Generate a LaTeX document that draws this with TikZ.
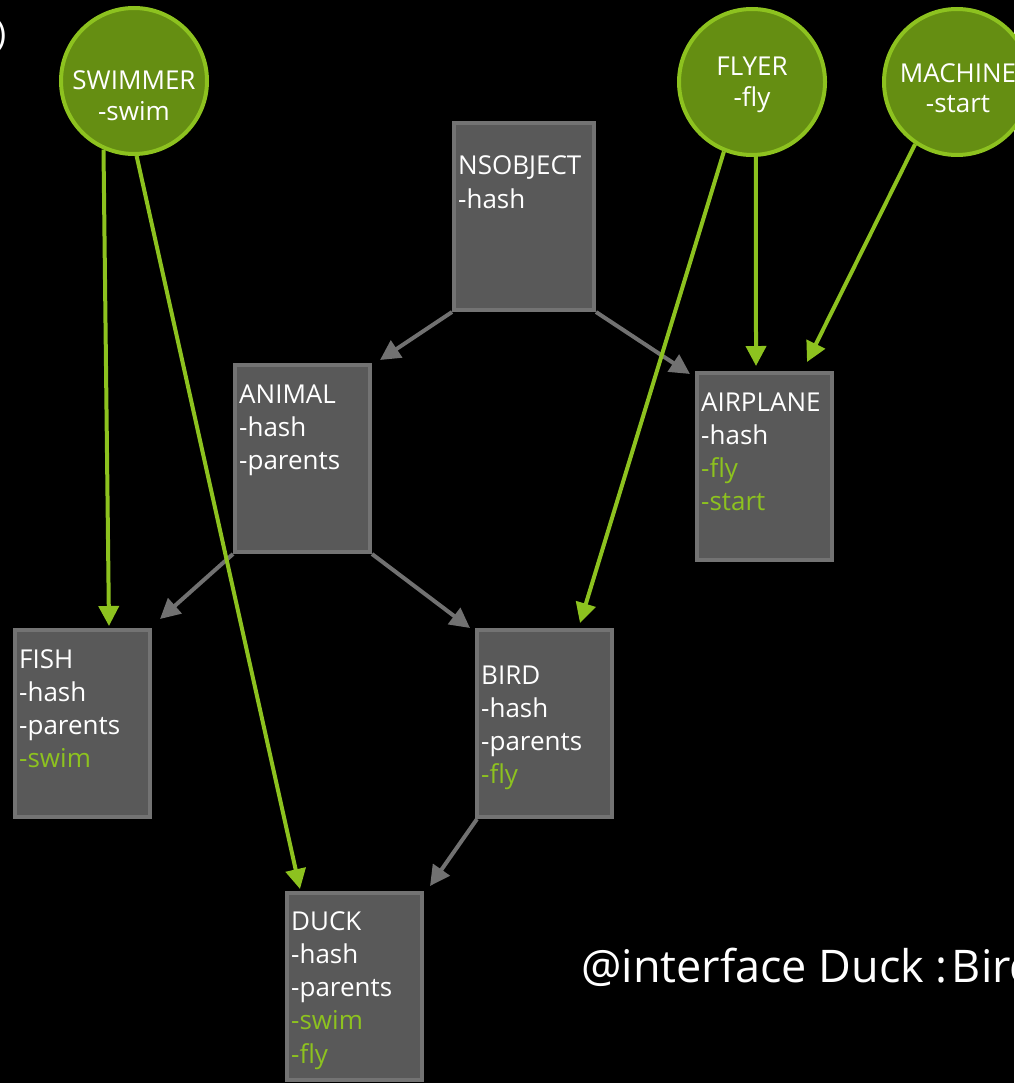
\documentclass[tikz,border=0pt]{standalone}
\usepackage{fontspec}
\setmainfont{Open Sans}
\usetikzlibrary{arrows.meta,calc}
\definecolor{boxfill}{HTML}{595959}
\definecolor{boxline}{HTML}{737373}
\definecolor{linkgray}{HTML}{717171}
\definecolor{protofill}{HTML}{658E12}
\definecolor{protoline}{HTML}{8DC21F}
\definecolor{methodgreen}{HTML}{8DC21F}

% member lines of a class box: box name, baseline of first line, list text/colour
\newcommand\classmembers[3]{%
  \foreach \txt/\col [count=\i from 0] in {#3}
    \node[member,text=\col] (#1-\i) at ($(#1.north west)+(6,#2+33.3*\i)$) {\txt};%
}

\begin{document}
\begin{tikzpicture}[x=1pt,y=-1pt,
  classbox/.style={draw=boxline,fill=boxfill,line width=4pt,minimum width=135pt,
    minimum height=187pt,inner sep=0pt,anchor=north west},
  proto/.style={circle,draw=protoline,fill=protofill,line width=4pt,
    minimum size=146pt,inner sep=0pt},
  member/.style={anchor=base west,inner sep=0pt,font=\fontsize{26}{33}\selectfont},
  prototext/.style={anchor=base,inner sep=0pt,text=white,font=\fontsize{26}{33}\selectfont},
  inherits/.style={draw=linkgray,line width=4pt,-{Triangle[length=20pt,width=20pt]}},
  adopts/.style={draw=protoline,line width=4pt,-{Triangle[length=20pt,width=20pt]}},
]
\fill[black] (0,0) rectangle (1014,1083);
\useasboundingbox (0,0) rectangle (1014,1083);

% class boxes placed first, so connectors can start at their corners
\path
  (452,121) node[classbox,minimum width=140pt] (nsobject) {}
  (233,363) node[classbox] (animal) {}
  (695,371) node[classbox] (airplane) {}
  (13,628)  node[classbox] (fish) {}
  (475,628) node[classbox] (bird) {}
  (285,891) node[classbox] (duck) {};

% protocols
\node[proto] (swimmer) at (134,81) {};
\node[proto] (flyer)   at (752,82) {};
\node[proto] (machine) at (957,82) {};

% inheritance connectors
\draw[inherits] (nsobject.south west) -- ($(animal.north east)+(8,-3)$);
\draw[inherits] (nsobject.south east) -- ($(airplane.north west)+(-5,3)$);
\draw[inherits] (animal.south west) -- ($(fish.north east)+(8,-9)$);
\draw[inherits] (animal.south east) -- ($(bird.north west)+(-5,0)$);
\draw[inherits] ($(bird.south west)+(2,0)$) -- ($(duck.north east)+(6,-5)$);

% protocol adoption connectors
\draw[adopts] (swimmer.246) -- ($(fish.north west)+(96,-2)$);
\draw[adopts] (swimmer.272) -- ($(duck.north west)+(15,-2)$);
\draw[adopts] (flyer.248)   -- ($(bird.north west)+(105,-5)$);
\draw[adopts] (flyer.273)   -- ($(airplane.north west)+(61,-5)$);
\draw[adopts] (machine.236) -- ($(airplane.north west)+(112,-9)$);

% boxes again, over the connector starts
\path
  (452,121) node[classbox,minimum width=140pt] (nsobject) {}
  (233,363) node[classbox] (animal) {}
  (695,371) node[classbox] (airplane) {}
  (13,628)  node[classbox] (fish) {}
  (475,628) node[classbox] (bird) {}
  (285,891) node[classbox] (duck) {};

\classmembers{nsobject}{54}{NSOBJECT/white,-hash/white}
\classmembers{animal}{40}{ANIMAL/white,-hash/white,-parents/white}
\classmembers{airplane}{40}{AIRPLANE/white,-hash/white,-fly/methodgreen,-start/methodgreen}
\classmembers{fish}{40}{FISH/white,-hash/white,-parents/white,-swim/methodgreen}
\classmembers{bird}{56}{BIRD/white,-hash/white,-parents/white,-fly/methodgreen}
\classmembers{duck}{39}{DUCK/white,-hash/white,-parents/white,-swim/methodgreen,-fly/methodgreen}

\node[prototext] (swimmer-name) at (134,90)  {SWIMMER};
\node[prototext] (swimmer-op)   at (134,121) {-swim};
\node[prototext] (flyer-name)   at (752,76)  {FLYER};
\node[prototext] (flyer-op)     at (752,107) {-fly};
\node[prototext] (machine-name) at (958,83)  {MACHINE};
\node[prototext] (machine-op)   at (958,113) {-start};

\node[anchor=base west,inner sep=0pt,text=white,font=\fontsize{34}{40}\selectfont]
  (paren) at (-4,46) {)};
\node[anchor=base west,inner sep=0pt,text=white,font=\fontsize{45}{54}\selectfont]
  (decl) at (581,982) {@interface Duck :\hspace{4pt}Bird};
\end{tikzpicture}
\end{document}
